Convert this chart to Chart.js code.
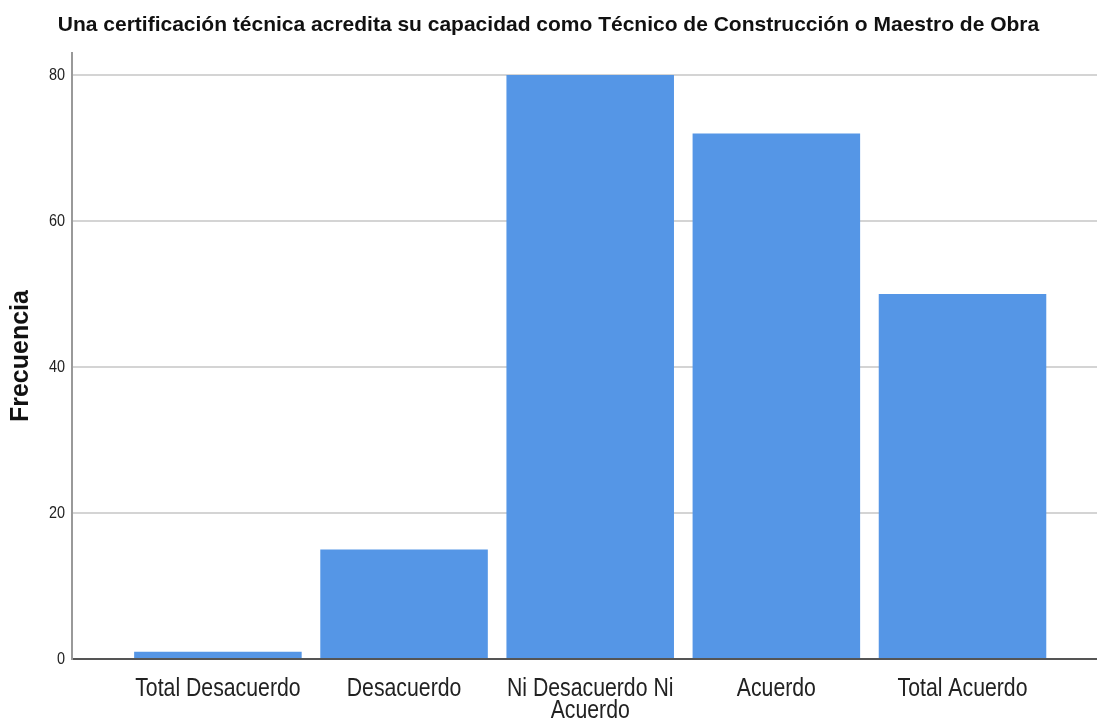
<!DOCTYPE html>
<html>
<head>
<meta charset="utf-8">
<script src="https://cdn.jsdelivr.net/npm/chart.js@4.4.1/dist/chart.umd.min.js"></script>
<style>
  body { margin: 0; background: #fff; }
  #grafico { display: block; }
</style>
</head>
<body>
<canvas id="grafico" width="1097" height="721"></canvas>
<script>
// datos
const categorias = ['Total Desacuerdo', 'Desacuerdo', ['Ni Desacuerdo Ni', 'Acuerdo'], 'Acuerdo', 'Total Acuerdo'];
const frecuencias = [1, 15, 80, 72, 50];
const ticksY = [0, 20, 40, 60, 80];

const titulo = 'Una certificación técnica acredita su capacidad como Técnico de Construcción o Maestro de Obra';
// no hay fuente estrecha instalada: se comprime el texto a mano (ver parche abajo)
const fuenteEstrecha = "'Liberation Sans Narrow', 'Liberation Sans', Arial, sans-serif";
const fuente = "'Liberation Sans', Arial, sans-serif";
const factorEstrecho = 0.85;

// texto estrecho tipo Arial Narrow
const fillTextOriginal = CanvasRenderingContext2D.prototype.fillText;
CanvasRenderingContext2D.prototype.fillText = function (texto, x, y, maxWidth) {
  if (this.font.indexOf('Narrow') === -1) {
    return maxWidth === undefined ? fillTextOriginal.call(this, texto, x, y) : fillTextOriginal.call(this, texto, x, y, maxWidth);
  }
  this.save();
  this.translate(x, y);
  this.scale(factorEstrecho, 1);
  if (maxWidth === undefined) {
    fillTextOriginal.call(this, texto, 0, 0);
  } else {
    fillTextOriginal.call(this, texto, 0, 0, maxWidth / factorEstrecho);
  }
  this.restore();
};

const puntos = frecuencias.map(function (v, i) { return { x: i, y: v }; });

new Chart(document.getElementById('grafico'), {
  type: 'bar',
  data: {
    datasets: [{
      label: 'Frecuencia',
      data: puntos,
      backgroundColor: '#5596e6',
      borderWidth: 0,
      categoryPercentage: 1,
      barPercentage: 0.9
    }]
  },
  options: {
    responsive: false,
    animation: false,
    layout: { padding: 0 },
    plugins: {
      legend: { display: false },
      tooltip: { enabled: false },
      title: {
        display: true,
        text: titulo,
        color: '#111',
        font: { family: fuente, size: 21, weight: 'bold' },
        padding: { top: 13, bottom: 15 }
      }
    },
    scales: {
      x: {
        type: 'linear',
        offset: false,
        min: -0.7838,
        max: 4.7225,
        z: 1,
        grid: { display: false },
        border: { display: true, color: '#555', width: 2 },
        afterFit: function (scale) { scale.height = 62; },
        ticks: {
          stepSize: 1,
          includeBounds: false,
          autoSkip: false,
          maxRotation: 0,
          padding: 11,
          color: '#222',
          font: { family: fuenteEstrecha, size: 25, lineHeight: 0.88 },
          callback: function (value) {
            return Number.isInteger(value) ? categorias[value] : '';
          }
        }
      },
      y: {
        min: 0,
        max: 83,
        afterFit: function (scale) { scale.width = 72; },
        afterBuildTicks: function (scale) {
          scale.ticks = ticksY.map(function (v) { return { value: v }; });
        },
        grid: { color: '#d4d4d4', lineWidth: 2, drawTicks: false },
        border: { display: true, color: '#999', width: 2 },
        ticks: {
          padding: 7,
          color: '#222',
          font: { family: fuenteEstrecha, size: 17 }
        },
        title: {
          display: true,
          text: 'Frecuencia',
          color: '#111',
          font: { family: fuente, size: 25, weight: 'bold' },
          padding: { top: 6, bottom: 0 }
        }
      }
    }
  }
});
</script>
</body>
</html>
